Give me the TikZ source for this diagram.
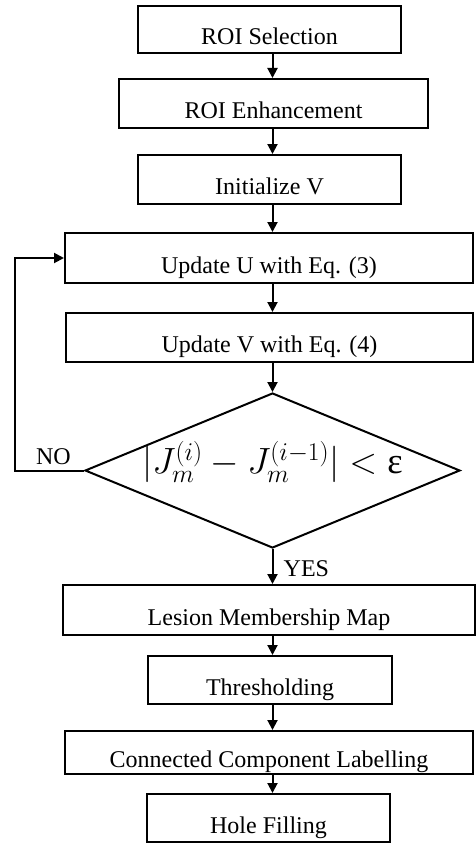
\RequirePackage{fix-cm}
\documentclass[tikz,border=0pt]{standalone}
\usepackage{fontspec}
\setmainfont{Liberation Serif}
\usetikzlibrary{arrows.meta,shapes.geometric}
\begin{document}
\begin{tikzpicture}[x=1pt,y=1pt,
  box/.style={draw=black, line width=2pt, inner sep=0pt, text height=30pt, text depth=0pt,
    font=\fontsize{24}{28}\selectfont},
  arr/.style={line width=2pt, -{Triangle[width=10pt,length=10pt]}},
  lbl/.style={font=\fontsize{24}{28}\selectfont, inner sep=0pt}]
\useasboundingbox (0,0) rectangle (476,-843);
\node[box, minimum width=263pt, minimum height=47pt] (b1) at (269.5,-29.5) {ROI Selection};
\node[box, minimum width=309pt, minimum height=49pt] (b2) at (273.5,-103.5) {ROI Enhancement};
\node[box, minimum width=263pt, minimum height=49pt] (b3) at (269.5,-179.5) {Initialize V};
\node[box, minimum width=408pt, minimum height=50pt] (b4) at (269,-258) {Update U with Eq. (3)};
\node[box, minimum width=407pt, minimum height=49pt] (b5) at (269.5,-337.5) {Update V with Eq. (4)};
\node[draw=black, line width=2pt, shape=diamond, inner sep=0pt, minimum width=375pt, minimum height=155pt] (d) at (272.5,-470.5)
  {\smash{\makebox[0pt]{\raisebox{-3pt}{\fontsize{36.5}{40}\selectfont$|J_m^{(i)}-J_m^{(i-1)}|<\mbox{ε}$}}}};
\node[box, minimum width=412pt, minimum height=50pt] (b6) at (269,-610) {Lesion Membership Map};
\node[box, minimum width=244pt, minimum height=48pt] (b7) at (270,-680) {Thresholding};
\node[box, minimum width=408pt, minimum height=43pt] (b8) at (269,-752.5) {Connected Component Labelling};
\node[box, minimum width=243pt, minimum height=48pt] (b9) at (268.5,-818) {Hole Filling};
\coordinate (lx) at (15,0);
\draw[arr] (b1.south -| d.north) -- (b2.north -| d.north);
\draw[arr] (b2.south -| d.north) -- (b3.north -| d.north);
\draw[arr] (b3.south -| d.north) -- (b4.north -| d.north);
\draw[arr] (b4.south -| d.north) -- (b5.north -| d.north);
\draw[arr] (b5.south -| d.north) -- (d.north);
\draw[arr] (d.south) -- (b6.north -| d.south);
\draw[arr] (b6.south -| d.north) -- (b7.north -| d.north);
\draw[arr] (b7.south -| d.north) -- (b8.north -| d.north);
\draw[arr] (b8.south -| d.north) -- (b9.north -| d.north);
\draw[arr] (d.west) -- (d.west -| lx) -- (b4.west -| lx) -- (b4.west);
\node[lbl, anchor=base east] (no) at ([xshift=-13pt,yshift=6pt]d.west) {NO};
\node[lbl, anchor=base west] (yes) at ([xshift=11pt,yshift=-27pt]d.south) {YES};
\end{tikzpicture}
\end{document}
